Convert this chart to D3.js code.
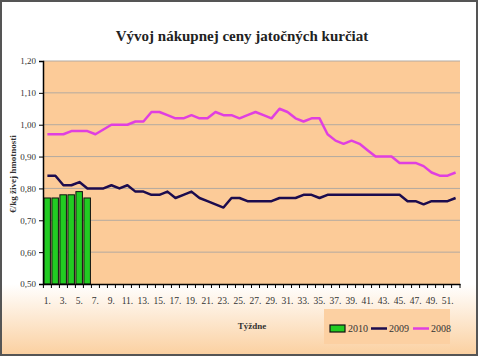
<!DOCTYPE html>
<html>
<head>
<meta charset="utf-8">
<script src="https://cdn.jsdelivr.net/npm/d3@7"></script>
<style>
html,body{margin:0;padding:0;background:#fff;}
svg{display:block;}
</style>
</head>
<body>
<svg id="chart" width="478" height="356"></svg>
<script>
const weeks = d3.range(1, 53);
const series2010 = [0.77, 0.77, 0.78, 0.78, 0.79, 0.77];
const series2009 = [0.84,0.84,0.81,0.81,0.82,0.80,0.80,0.80,0.81,0.80,0.81,0.79,0.79,0.78,0.78,0.79,0.77,0.78,0.79,0.77,0.76,0.75,0.74,0.77,0.77,0.76,0.76,0.76,0.76,0.77,0.77,0.77,0.78,0.78,0.77,0.78,0.78,0.78,0.78,0.78,0.78,0.78,0.78,0.78,0.78,0.76,0.76,0.75,0.76,0.76,0.76,0.77];
const series2008 = [0.97,0.97,0.97,0.98,0.98,0.98,0.97,0.985,1.00,1.00,1.00,1.01,1.01,1.04,1.04,1.03,1.02,1.02,1.03,1.02,1.02,1.04,1.03,1.03,1.02,1.03,1.04,1.03,1.02,1.05,1.04,1.02,1.01,1.02,1.02,0.97,0.95,0.94,0.95,0.94,0.92,0.90,0.90,0.90,0.88,0.88,0.88,0.87,0.85,0.84,0.84,0.85];
const yTicks = [0.5,0.6,0.7,0.8,0.9,1.0,1.1,1.2];
const legendLabels = ["2010","2009","2008"];
const title = "Vývoj nákupnej ceny jatočných kurčiat";
const yTitle = "€/kg živej hmotnosti";
const xTitle = "Týždne";

(function(){
const svg = d3.select("#chart");
const W = 478, H = 356;
const pl = 43, pr = 460, pt = 61, pb = 284;
const serif = "'Liberation Serif','Times New Roman',serif";

const defs = svg.append("defs");
const grad = defs.append("linearGradient").attr("id","bg").attr("x1",0).attr("x2",0).attr("y1",0).attr("y2",1);
grad.append("stop").attr("offset","0%").attr("stop-color","#ffffff");
grad.append("stop").attr("offset","80%").attr("stop-color","#ffffff");
grad.append("stop").attr("offset","100%").attr("stop-color","#fbd0a0");

svg.append("rect").attr("x",1).attr("y",1).attr("width",W-2).attr("height",H-2)
  .attr("fill","url(#bg)").attr("stroke","#555").attr("stroke-width",2);

const x = d3.scaleBand().domain(weeks).range([pl, pr]).padding(0.1);
const xc = w => x(w) + x.bandwidth()/2;
const step = x.step();
const y = d3.scaleLinear().domain([0.5, 1.2]).range([pb, pt]);

svg.append("rect").attr("x",pl).attr("y",pt).attr("width",pr-pl).attr("height",pb-pt)
  .attr("fill","#fccb98");

svg.append("g").selectAll("line").data(yTicks.slice(1)).join("line")
  .attr("x1",pl).attr("x2",pr).attr("y1",d=>y(d)).attr("y2",d=>y(d))
  .attr("stroke","#b3aaa0").attr("stroke-width",1);

svg.append("g").selectAll("rect").data(series2010).join("rect")
  .attr("x",(d,i)=>x(weeks[i]) - step*x.paddingInner()/2 + 0.5)
  .attr("width",step-1.5)
  .attr("y",d=>y(d)).attr("height",d=>y(0.5)-y(d))
  .attr("fill","#22cc22").attr("stroke","#111").attr("stroke-width",1);

const line = d3.line().x((d,i)=>xc(weeks[i])).y(d=>y(d));
svg.append("path").datum(series2008).attr("d",line).attr("fill","none")
  .attr("stroke","#e03fe0").attr("stroke-width",2.5).attr("stroke-linejoin","round");
svg.append("path").datum(series2009).attr("d",line).attr("fill","none")
  .attr("stroke","#1c0c4e").attr("stroke-width",2.5).attr("stroke-linejoin","round");

const yAxis = svg.append("g").attr("transform",`translate(${pl},0)`)
  .call(d3.axisLeft(y).tickValues(yTicks).tickFormat(d=>d.toFixed(2).replace(".",",")).tickSize(4).tickPadding(3));
yAxis.select(".domain").attr("stroke","#000").attr("stroke-width",1.5);
yAxis.selectAll(".tick line").attr("stroke","#000");
yAxis.selectAll("text").attr("font-family",serif).attr("font-size",9).attr("fill","#333");

const xAxis = svg.append("g").attr("transform",`translate(0,${pb})`)
  .call(d3.axisBottom(x).tickValues(weeks.filter(w=>w%2===1)).tickFormat(d=>d+".").tickSize(0).tickPadding(13));
xAxis.select(".domain").attr("stroke","#000").attr("stroke-width",1.5);
xAxis.selectAll("text").attr("font-family",serif).attr("font-size",9.5).attr("fill","#333");
const bounds = weeks.map(w=>x(w) - step*x.paddingInner()/2).concat([pr]);
svg.append("g").selectAll("line").data(bounds).join("line")
  .attr("x1",d=>d).attr("x2",d=>d).attr("y1",pb).attr("y2",pb+4)
  .attr("stroke","#000").attr("stroke-width",1);

svg.append("text").attr("x",242).attr("y",41).attr("text-anchor","middle")
  .attr("font-family",serif).attr("font-weight","bold").attr("font-size",15).attr("fill","#222").text(title);
svg.append("text").attr("transform","translate(16,174) rotate(-90)").attr("text-anchor","middle")
  .attr("font-family",serif).attr("font-weight","bold").attr("font-size",9).attr("fill","#333").text(yTitle);
svg.append("text").attr("x",252).attr("y",329).attr("text-anchor","middle")
  .attr("font-family",serif).attr("font-weight","bold").attr("font-size",9).attr("fill","#333").text(xTitle);

const lg = svg.append("g");
lg.append("rect").attr("x",324).attr("y",309).attr("width",126).attr("height",35).attr("fill","#fcd0a2");
const lx = [330, 371, 413];
lg.append("rect").attr("x",lx[0]).attr("y",325).attr("width",15).attr("height",7)
  .attr("fill","#22cc22").attr("stroke","#111").attr("stroke-width",1.2);
lg.append("line").attr("x1",lx[1]).attr("x2",lx[1]+16).attr("y1",328.5).attr("y2",328.5)
  .attr("stroke","#1c0c4e").attr("stroke-width",2.5);
lg.append("line").attr("x1",lx[2]).attr("x2",lx[2]+16).attr("y1",328.5).attr("y2",328.5)
  .attr("stroke","#e03fe0").attr("stroke-width",2.5);
lg.selectAll("text.l").data(legendLabels).join("text").attr("class","l")
  .attr("x",(d,i)=>lx[i]+18).attr("y",332).attr("font-family",serif).attr("font-size",10).attr("fill","#333").text(d=>d);
})();
</script>
</body>
</html>
